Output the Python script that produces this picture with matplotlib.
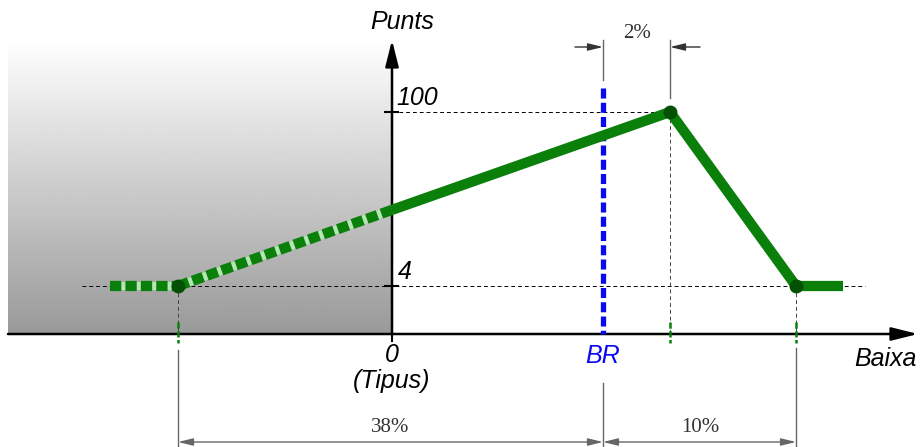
import numpy as np
import matplotlib
matplotlib.use("Agg")
import matplotlib.pyplot as plt

# knee points of the scoring curve (x = baixa, schematic units; y = punts)
knee_x = [-214, 0, 278, 404]
knee_y = [4, 46, 100, 4]
flat_left_x = [-282, -214]
flat_right_x = [404, 451]
floor_pts = 4
max_pts = 100
br_x = 211
y_ticks = [4, 100]
y_tick_labels = ["4", "100"]
dim_labels = ["38%", "10%", "2%"]

GREEN = "#0a7f0a"
LIGHT_GREEN = "#b5e6b5"
DARK_GREEN = "#045004"
BLUE = "#0a0af0"
GRAY = "#666666"

# map pixel rows of the picture to punts
def py(p):
    return 4 + (286 - p) / 1.8125

fig = plt.figure(figsize=(9.23, 4.47), dpi=100)
ax = fig.add_axes([0, 0, 1, 1])
ax.set_axis_off()

axis_y = py(334)

# grey gradient on the left
grad = np.linspace(1.0, 0.6, 256).reshape(-1, 1)
ax.imshow(grad, cmap="gray", vmin=0, vmax=1, aspect="auto",
          extent=[-384, 0, axis_y, py(40)], zorder=0)

# axes with arrows
ax.annotate("", xy=(526, axis_y), xytext=(-384, axis_y),
            arrowprops=dict(arrowstyle="-|>,head_length=1.6,head_width=0.4",
                            lw=1.8, color="k", shrinkA=0, shrinkB=0), zorder=3)
ax.annotate("", xy=(0, py(40)), xytext=(0, axis_y),
            arrowprops=dict(arrowstyle="-|>,head_length=1.6,head_width=0.4",
                            lw=1.8, color="k", shrinkA=0, shrinkB=0), zorder=3)

# y ticks
for yt in y_ticks:
    ax.plot([-7, 6], [yt, yt], color="k", lw=1.5, zorder=3)
ax.plot([0, 0], [axis_y, py(341)], color="k", lw=1.5, zorder=3)

# guide lines
ax.plot([-310, 473], [floor_pts, floor_pts], color="k", lw=0.7,
        ls=(0, (4, 3)), zorder=2)
ax.plot([0, knee_x[2]], [max_pts, max_pts], color="k", lw=0.7,
        ls=(0, (4, 3)), zorder=2)
ax.plot([knee_x[2], knee_x[2]], [max_pts, axis_y], color="#444444", lw=0.7,
        ls=(0, (4, 3)), zorder=2)
for kx in [knee_x[0], knee_x[3]]:
    ax.plot([kx, kx], [floor_pts, axis_y], color="#444444", lw=0.7,
            ls=(0, (4, 3)), zorder=2)
for kx in [knee_x[0], knee_x[2], knee_x[3]]:
    ax.plot([kx, kx], [py(322), py(343)], color=GREEN, lw=1.8,
            ls=(0, (2.5, 1)), zorder=4)

# BR line
ax.plot([br_x, br_x], [py(88), axis_y], color=BLUE, lw=3.8,
        ls=(0, (1.9, 0.8)), solid_capstyle="butt", zorder=5)

# scoring curve
LW = 7.4
dash = (0, (1.1, 0.4))
for xs, ys in [(flat_left_x, [floor_pts, floor_pts]), (knee_x[:2], knee_y[:2])]:
    ax.plot(xs, ys, color=LIGHT_GREEN, lw=LW - 1.5, solid_capstyle="butt", zorder=6)
    ax.plot(xs, ys, color=GREEN, lw=LW, ls=dash,
            dash_capstyle="butt", zorder=6)
ax.plot(knee_x[1:], knee_y[1:], color=GREEN, lw=LW,
        solid_joinstyle="round", solid_capstyle="butt", zorder=6)
ax.plot(flat_right_x, [floor_pts, floor_pts], color=GREEN, lw=LW,
        solid_capstyle="butt", zorder=6)
ax.plot([knee_x[0], knee_x[2], knee_x[3]], [knee_y[0], knee_y[2], knee_y[3]],
        "o", color=DARK_GREEN, ms=9, zorder=7)

# labels
sans = dict(family="Liberation Sans", style="italic", fontsize=18)
ax.text(10, py(22), "Punts", ha="center", va="center", **sans)
ax.text(4, py(98), y_tick_labels[1], ha="left", va="center", **sans)
ax.text(6, py(272), y_tick_labels[0], ha="left", va="center", **sans)
ax.text(0, py(355), "0", ha="center", va="center", **sans)
ax.text(0, py(381), "(Tipus)", ha="center", va="center", **sans)
ax.text(br_x, py(356), "BR", ha="center", va="center", color=BLUE, **sans)
ax.text(493, py(359), "Baixa", ha="center", va="center", **sans)

# dimension lines
for x0, p0 in [(knee_x[0], 350), (br_x, 383), (knee_x[3], 348)]:
    ax.plot([x0, x0], [py(p0), py(447)], color=GRAY, lw=1, zorder=2)
ax.plot([br_x, br_x], [py(40), py(80)], color=GRAY, lw=1, zorder=2)
ax.plot([knee_x[2], knee_x[2]], [py(40), py(98)], color=GRAY, lw=1, zorder=2)

dim = dict(arrowstyle="<|-|>,head_length=0.9,head_width=0.22", lw=1,
           color=GRAY, shrinkA=0, shrinkB=0)
ax.annotate("", xy=(knee_x[0], py(442)), xytext=(br_x, py(442)), arrowprops=dim)
ax.annotate("", xy=(br_x, py(442)), xytext=(knee_x[3], py(442)), arrowprops=dim)
one = dict(arrowstyle="-|>,head_length=0.9,head_width=0.22", lw=1,
           color="#333333", shrinkA=0, shrinkB=0)
ax.annotate("", xy=(br_x, py(47)), xytext=(br_x - 28, py(47)), arrowprops=one)
ax.annotate("", xy=(knee_x[2], py(47)), xytext=(knee_x[2] + 30, py(47)),
            arrowprops=one)

serif = dict(family="Liberation Serif", fontsize=15, color="#333333")
ax.text(-2, py(428), dim_labels[0], ha="center", va="center", **serif)
ax.text(308, py(428), dim_labels[1], ha="center", va="center", **serif)
ax.text(245, py(33), dim_labels[2], ha="center", va="center", **serif)

ax.set_xlim(-392, 531)
ax.set_ylim(py(447), py(0))

fig.savefig("out.png", dpi=100)
